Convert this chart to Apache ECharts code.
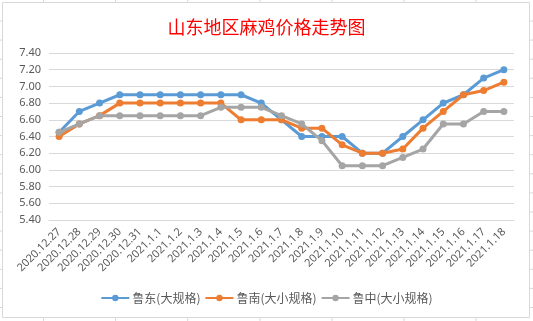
<!DOCTYPE html>
<html>
<head>
<meta charset="utf-8">
<script src="https://cdn.jsdelivr.net/npm/echarts@6/dist/echarts.min.js"></script>
<style>
html,body{margin:0;padding:0;background:#fff;}
#c{width:533px;height:321px;}
</style>
</head>
<body>
<div id="c"></div>
<script>
var titleText = '山东地区麻鸡价格走势图';
var categories = ['2020.12.27','2020.12.28','2020.12.29','2020.12.30','2020.12.31','2021.1.1','2021.1.2','2021.1.3','2021.1.4','2021.1.5','2021.1.6','2021.1.7','2021.1.8','2021.1.9','2021.1.10','2021.1.11','2021.1.12','2021.1.13','2021.1.14','2021.1.15','2021.1.16','2021.1.17','2021.1.18'];
var seriesNames = ['鲁东(大规格)','鲁南(大小规格)','鲁中(大小规格)'];
var ludong   = [6.45,6.70,6.80,6.90,6.90,6.90,6.90,6.90,6.90,6.90,6.80,6.60,6.40,6.40,6.40,6.20,6.20,6.40,6.60,6.80,6.90,7.10,7.20];
var lunan    = [6.40,6.55,6.65,6.80,6.80,6.80,6.80,6.80,6.80,6.60,6.60,6.60,6.50,6.50,6.30,6.20,6.20,6.25,6.50,6.70,6.90,6.95,7.05];
var luzhong  = [6.45,6.55,6.65,6.65,6.65,6.65,6.65,6.65,6.75,6.75,6.75,6.65,6.55,6.35,6.05,6.05,6.05,6.15,6.25,6.55,6.55,6.70,6.70];
var colors = ['#5B9BD5','#ED7D31','#A5A5A5'];

var chart = echarts.init(document.getElementById('c'), null, {renderer:'canvas'});
var gc = '#D9D9D9';
var graphics = [
  {type:'rect', shape:{x:2.5,y:2.5,width:527,height:315}, style:{fill:null, stroke:gc, lineWidth:1}, silent:true}
];
[43.5,115.6,187.7,260,332,404,476].forEach(function(x){
  graphics.push({type:'line', shape:{x1:x,y1:0,x2:x,y2:2.5}, style:{stroke:gc,lineWidth:1}, silent:true});
  graphics.push({type:'line', shape:{x1:x,y1:318,x2:x,y2:321}, style:{stroke:gc,lineWidth:1}, silent:true});
});
for (var k=0;k<16;k++){
  var y = 21 + 19.1*k;
  graphics.push({type:'line', shape:{x1:0,y1:y,x2:2.5,y2:y}, style:{stroke:gc,lineWidth:1}, silent:true});
  graphics.push({type:'line', shape:{x1:530,y1:y,x2:533,y2:y}, style:{stroke:gc,lineWidth:1}, silent:true});
}

var series = [ludong, lunan, luzhong].map(function(d,i){
  return {
    name: seriesNames[i], type:'line', data:d,
    symbol:'circle', symbolSize:7,
    lineStyle:{width:3, color:colors[i]},
    itemStyle:{color:colors[i]},
    z: 3 + i
  };
});

chart.setOption({
  animation:false,
  color: colors,
  title:{
    text:titleText, left:'center', top:13,
    textStyle:{color:'#FF0000', fontSize:18, fontWeight:'normal', fontFamily:'Noto Sans CJK SC'}
  },
  legend:{
    bottom:12, left:'center',
    itemWidth:28, itemHeight:8, itemGap:4,
    textStyle:{color:'#595959', fontSize:12, fontFamily:'Noto Sans CJK SC', padding:[0,0,0,-2]},
    data: seriesNames
  },
  grid:{left:49, right:19, top:53, bottom:101, containLabel:false},
  xAxis:{
    type:'category', data:categories, boundaryGap:true,
    axisLine:{lineStyle:{color:gc}},
    axisTick:{show:false},
    axisLabel:{rotate:45, interval:0, color:'#595959', fontSize:11, fontFamily:'Noto Sans', margin:10}
  },
  yAxis:{
    type:'value', min:5.4, max:7.4, interval:0.2,
    axisLine:{show:false}, axisTick:{show:false},
    splitLine:{lineStyle:{color:gc}},
    axisLabel:{color:'#595959', fontSize:11, fontFamily:'Noto Sans', margin:8,
      formatter:function(v){return v.toFixed(2);}}
  },
  graphic: graphics,
  series: series
});
</script>
</body>
</html>
